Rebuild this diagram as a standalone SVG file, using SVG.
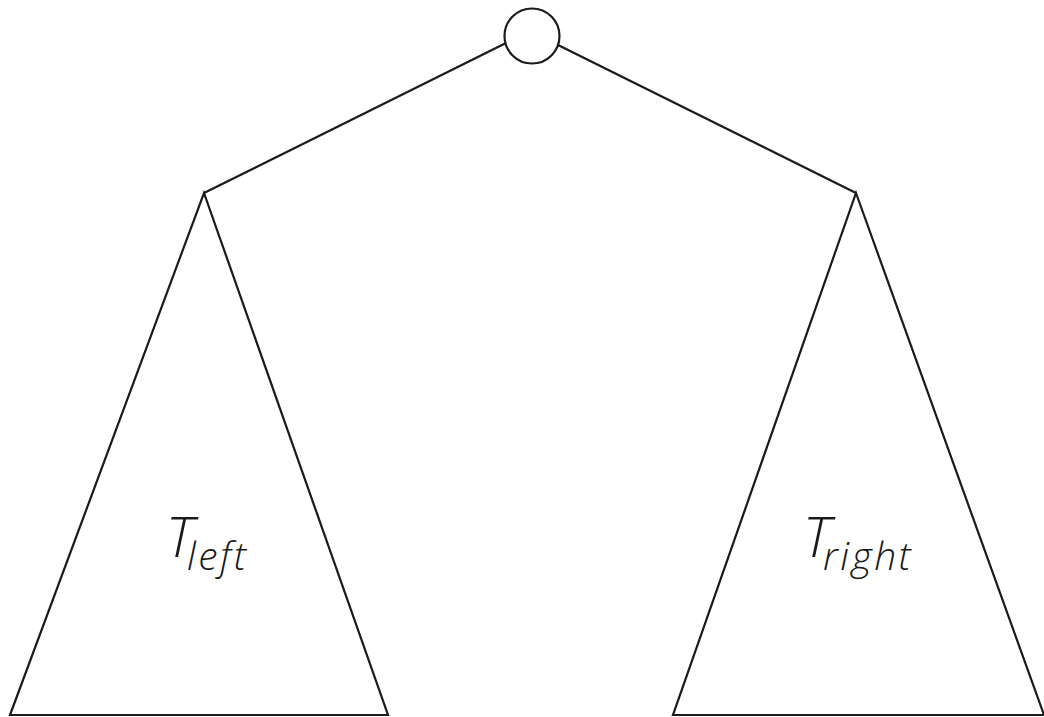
<svg xmlns="http://www.w3.org/2000/svg" width="1044" height="717" viewBox="0 0 1044 717">
<style>
.ln{fill:none;stroke:#1a1a1a;stroke-width:2.2;stroke-linejoin:miter}
.t{font-family:"Open Sans","Lato",sans-serif;font-style:italic;font-weight:300;fill:#1a1a1a;font-size:56px}
.sub{font-size:39px;letter-spacing:2.5px}
</style>
<rect width="1044" height="717" fill="#fff"/>
<g id="connectors">
<line class="ln" x1="506" y1="43" x2="204" y2="193"/>
<line class="ln" x1="558" y1="45" x2="856" y2="193"/>
</g>
<g id="root">
<circle class="ln" cx="532" cy="36" r="27.5"/>
</g>
<g id="tleft">
<polygon class="ln" points="204,193 388,715 10,715"/>
<text class="t" x="166" y="557">T<tspan class="sub" x="187" y="570">left</tspan></text>
</g>
<g id="tright">
<polygon class="ln" points="856,193 1044,715 673,715"/>
<text class="t" x="803" y="557">T<tspan class="sub" x="823" y="570">right</tspan></text>
</g>
</svg>
